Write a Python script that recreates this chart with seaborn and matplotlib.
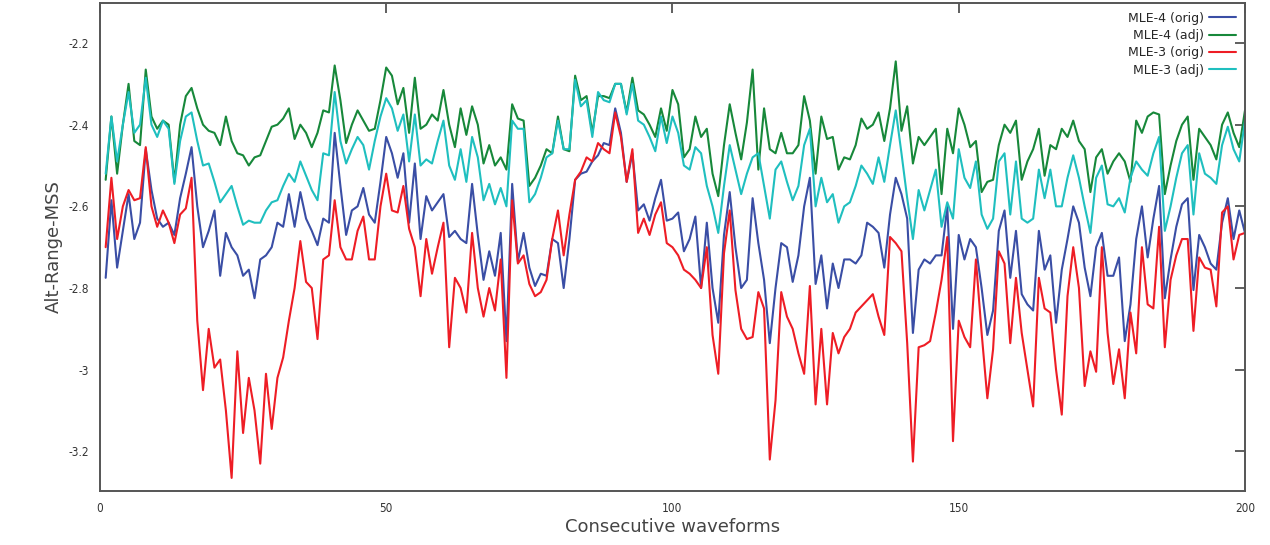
import numpy as np
import pandas as pd
import matplotlib
matplotlib.use("Agg")
import matplotlib.pyplot as plt
import seaborn as sns

x_vals = list(range(1, 201))

mle4_orig = [
    -2.775, -2.585, -2.75, -2.66, -2.57, -2.68, -2.64, -2.46, -2.56, -2.63,
    -2.65, -2.64, -2.67, -2.58, -2.52, -2.455, -2.60, -2.70, -2.66, -2.61,
    -2.77, -2.665, -2.70, -2.72, -2.77, -2.755, -2.825, -2.73, -2.72, -2.70,
    -2.64, -2.65, -2.57, -2.65, -2.565, -2.63, -2.66, -2.695, -2.63, -2.64,
    -2.42, -2.55, -2.67, -2.61, -2.60, -2.555, -2.62, -2.64, -2.54, -2.43,
    -2.47, -2.53, -2.47, -2.64, -2.495, -2.68, -2.575, -2.61, -2.59, -2.57,
    -2.675, -2.66, -2.68, -2.69, -2.545, -2.67, -2.78, -2.71, -2.77, -2.665,
    -2.93, -2.545, -2.735, -2.665, -2.75, -2.795, -2.765, -2.77, -2.68, -2.69,
    -2.80, -2.68, -2.535, -2.52, -2.515, -2.49, -2.475, -2.445, -2.45, -2.36,
    -2.42, -2.54, -2.47, -2.61, -2.595, -2.635, -2.58, -2.535, -2.635, -2.63,
    -2.615, -2.71, -2.68, -2.625, -2.80, -2.64, -2.80, -2.885, -2.67, -2.565,
    -2.70, -2.80, -2.78, -2.58, -2.69, -2.78, -2.935, -2.80, -2.69, -2.70,
    -2.785, -2.72, -2.60, -2.53, -2.79, -2.72, -2.85, -2.74, -2.80, -2.73,
    -2.73, -2.74, -2.72, -2.64, -2.65, -2.665, -2.75, -2.62, -2.53, -2.57,
    -2.63, -2.91, -2.755, -2.73, -2.74, -2.72, -2.72, -2.60, -2.90, -2.67,
    -2.73, -2.68, -2.70, -2.80, -2.915, -2.855, -2.66, -2.61, -2.775, -2.66,
    -2.815, -2.84, -2.855, -2.66, -2.755, -2.72, -2.885, -2.755, -2.68, -2.60,
    -2.64, -2.75, -2.82, -2.70, -2.665, -2.77, -2.77, -2.725, -2.93, -2.84,
    -2.68, -2.60, -2.725, -2.63, -2.55, -2.825, -2.73, -2.65, -2.595, -2.58,
    -2.805, -2.67, -2.70, -2.74, -2.755, -2.64, -2.58, -2.68, -2.61, -2.665,
]

mle4_adj = [
    -2.535, -2.38, -2.52, -2.40, -2.30, -2.44, -2.45, -2.265, -2.38, -2.41,
    -2.39, -2.40, -2.54, -2.40, -2.33, -2.31, -2.36, -2.40, -2.415, -2.42,
    -2.45, -2.38, -2.44, -2.47, -2.475, -2.50, -2.48, -2.475, -2.44, -2.405,
    -2.40, -2.385, -2.36, -2.435, -2.40, -2.42, -2.455, -2.42, -2.365, -2.37,
    -2.255, -2.34, -2.445, -2.40, -2.365, -2.39, -2.415, -2.41, -2.34, -2.26,
    -2.28, -2.35, -2.31, -2.42, -2.285, -2.41, -2.40, -2.375, -2.39, -2.315,
    -2.40, -2.455, -2.36, -2.425, -2.355, -2.40, -2.495, -2.45, -2.50, -2.48,
    -2.51, -2.35, -2.385, -2.39, -2.55, -2.53, -2.50, -2.46, -2.47, -2.38,
    -2.46, -2.465, -2.28, -2.34, -2.33, -2.42, -2.33, -2.33, -2.335, -2.30,
    -2.30, -2.37, -2.285, -2.365, -2.375, -2.40, -2.43, -2.36, -2.415, -2.315,
    -2.35, -2.48, -2.46, -2.38, -2.43, -2.41, -2.52, -2.575, -2.45, -2.35,
    -2.42, -2.485, -2.395, -2.265, -2.51, -2.36, -2.46, -2.47, -2.42, -2.47,
    -2.47, -2.45, -2.33, -2.39, -2.52, -2.38, -2.435, -2.43, -2.51, -2.48,
    -2.485, -2.45, -2.385, -2.41, -2.40, -2.37, -2.44, -2.36, -2.245, -2.415,
    -2.355, -2.495, -2.43, -2.45, -2.43, -2.41, -2.57, -2.41, -2.47, -2.36,
    -2.40, -2.455, -2.44, -2.565, -2.54, -2.535, -2.45, -2.40, -2.42, -2.39,
    -2.535, -2.49, -2.46, -2.41, -2.525, -2.45, -2.46, -2.41, -2.43, -2.39,
    -2.44, -2.46, -2.565, -2.48, -2.46, -2.52, -2.49, -2.47, -2.49, -2.54,
    -2.39, -2.42, -2.38, -2.37, -2.375, -2.57, -2.50, -2.44, -2.40, -2.38,
    -2.535, -2.41, -2.43, -2.45, -2.485, -2.40, -2.37, -2.42, -2.455, -2.365,
]

mle3_orig = [
    -2.70, -2.53, -2.68, -2.60, -2.56, -2.585, -2.58, -2.455, -2.60, -2.65,
    -2.61, -2.64, -2.69, -2.62, -2.605, -2.53, -2.88, -3.05, -2.90, -2.995,
    -2.975, -3.10, -3.265, -2.955, -3.155, -3.02, -3.10, -3.23, -3.01, -3.145,
    -3.02, -2.97, -2.88, -2.80, -2.685, -2.785, -2.80, -2.925, -2.73, -2.72,
    -2.585, -2.70, -2.73, -2.73, -2.66, -2.625, -2.73, -2.73, -2.60, -2.52,
    -2.61, -2.615, -2.55, -2.655, -2.70, -2.82, -2.68, -2.765, -2.70, -2.64,
    -2.945, -2.775, -2.80, -2.86, -2.665, -2.80, -2.87, -2.80, -2.855, -2.73,
    -3.02, -2.585, -2.74, -2.72, -2.79, -2.82, -2.81, -2.78, -2.68, -2.61,
    -2.72, -2.62, -2.535, -2.515, -2.48, -2.49, -2.445, -2.46, -2.47, -2.37,
    -2.43, -2.54, -2.46, -2.665, -2.63, -2.67, -2.62, -2.59, -2.69, -2.70,
    -2.72, -2.755, -2.765, -2.78, -2.80, -2.70, -2.915, -3.01, -2.715, -2.61,
    -2.805, -2.90, -2.925, -2.92, -2.81, -2.85, -3.22, -3.075, -2.81, -2.87,
    -2.90, -2.96, -3.01, -2.795, -3.085, -2.90, -3.085, -2.91, -2.96, -2.92,
    -2.90, -2.86, -2.845, -2.83, -2.815, -2.87, -2.915, -2.675, -2.69, -2.71,
    -2.935, -3.225, -2.945, -2.94, -2.93, -2.86, -2.78, -2.675, -3.175, -2.88,
    -2.92, -2.945, -2.73, -2.91, -3.07, -2.95, -2.71, -2.74, -2.935, -2.775,
    -2.91, -3.00, -3.09, -2.775, -2.85, -2.86, -3.00, -3.11, -2.82, -2.70,
    -2.80, -3.04, -2.955, -3.005, -2.70, -2.91, -3.035, -2.95, -3.07, -2.86,
    -2.96, -2.70, -2.84, -2.85, -2.65, -2.945, -2.78, -2.72, -2.68, -2.68,
    -2.905, -2.725, -2.75, -2.755, -2.845, -2.615, -2.60, -2.73, -2.67, -2.665,
]

mle3_adj = [
    -2.52, -2.38, -2.49, -2.40, -2.32, -2.42, -2.40, -2.285, -2.40, -2.43,
    -2.39, -2.41, -2.545, -2.44, -2.38, -2.37, -2.44, -2.50, -2.495, -2.54,
    -2.59, -2.57, -2.55, -2.60, -2.645, -2.635, -2.64, -2.64, -2.61, -2.59,
    -2.585, -2.55, -2.52, -2.54, -2.49, -2.525, -2.56, -2.585, -2.47, -2.475,
    -2.32, -2.44, -2.495, -2.46, -2.43, -2.45, -2.51, -2.44, -2.38, -2.335,
    -2.36, -2.415, -2.375, -2.49, -2.375, -2.50, -2.485, -2.495, -2.44, -2.39,
    -2.50, -2.535, -2.46, -2.54, -2.43, -2.48, -2.585, -2.545, -2.595, -2.555,
    -2.60, -2.39, -2.41, -2.41, -2.59, -2.57, -2.53, -2.48, -2.47, -2.39,
    -2.46, -2.46, -2.29, -2.355, -2.34, -2.43, -2.32, -2.34, -2.345, -2.30,
    -2.30, -2.375, -2.30, -2.39, -2.40, -2.43, -2.465, -2.38, -2.445, -2.38,
    -2.42, -2.50, -2.51, -2.455, -2.47, -2.55, -2.60, -2.665, -2.55, -2.45,
    -2.51, -2.57, -2.52, -2.48, -2.47, -2.55, -2.63, -2.51, -2.49, -2.54,
    -2.585, -2.55, -2.45, -2.41, -2.60, -2.53, -2.59, -2.57, -2.64, -2.60,
    -2.59, -2.55, -2.50, -2.52, -2.545, -2.48, -2.54, -2.45, -2.365, -2.47,
    -2.58, -2.68, -2.56, -2.61, -2.56, -2.51, -2.65, -2.59, -2.63, -2.46,
    -2.53, -2.555, -2.49, -2.62, -2.655, -2.63, -2.49, -2.47, -2.62, -2.49,
    -2.63, -2.64, -2.63, -2.51, -2.58, -2.51, -2.60, -2.60, -2.53, -2.475,
    -2.53, -2.60, -2.665, -2.53, -2.50, -2.595, -2.60, -2.58, -2.615, -2.53,
    -2.49, -2.51, -2.525, -2.47, -2.43, -2.66, -2.60, -2.53, -2.47, -2.45,
    -2.62, -2.47, -2.52, -2.53, -2.545, -2.45, -2.405, -2.46, -2.49, -2.39,
]

series_names = ["MLE-4 (orig)", "MLE-4 (adj)", "MLE-3 (orig)", "MLE-3 (adj)"]
series_values = [mle4_orig, mle4_adj, mle3_orig, mle3_adj]
palette = {
    "MLE-4 (orig)": "#3a4ea5",
    "MLE-4 (adj)": "#17883a",
    "MLE-3 (orig)": "#ee1d25",
    "MLE-3 (adj)": "#1fbfbf",
}

x_ticks = [0, 50, 100, 150, 200]
y_ticks = [-3.2, -3.0, -2.8, -2.6, -2.4, -2.2]
y_tick_labels = ["-3.2", "-3", "-2.8", "-2.6", "-2.4", "-2.2"]

df = pd.DataFrame({
    "x": np.tile(x_vals, len(series_names)),
    "value": np.concatenate(series_values),
    "series": np.repeat(series_names, len(x_vals)),
})

sns.set_style("white")
plt.rcParams["font.family"] = ["DejaVu Sans"]

fig = plt.figure(figsize=(12.7, 5.45), dpi=100)
ax = fig.add_axes([0.0787, 0.0991, 0.9016, 0.8954])

sns.lineplot(data=df, x="x", y="value", hue="series", hue_order=series_names,
             palette=palette, linewidth=1.5, ax=ax, estimator=None, sort=False)

ax.set_xlim(0, 200)
ax.set_ylim(-3.297, -2.102)
ax.set_xticks(x_ticks)
ax.set_xticklabels([str(t) for t in x_ticks])
ax.set_yticks(y_ticks)
ax.set_yticklabels(y_tick_labels)
ax.tick_params(direction="in", length=7, width=1.2, color="#444444",
               top=True, right=True, labelsize=8.5, labelcolor="#333333", pad=8)
for lab in ax.get_xticklabels() + ax.get_yticklabels():
    lab.set_fontstretch("condensed")
for sp in ax.spines.values():
    sp.set_color("#555555")
    sp.set_linewidth(1.4)
    sp.set_visible(True)

ax.set_xlabel("Consecutive waveforms", fontsize=13, color="#444444", labelpad=2)
ax.set_ylabel("Alt-Range-MSS", fontsize=13, color="#444444", labelpad=4)

leg = ax.legend(loc="upper right", frameon=False, markerfirst=False,
                fontsize=9, handlelength=2.2, handletextpad=0.4,
                labelspacing=0.35, borderaxespad=0.3)
for line in leg.get_lines():
    line.set_linewidth(1.5)

fig.savefig("out.png", dpi=100)
